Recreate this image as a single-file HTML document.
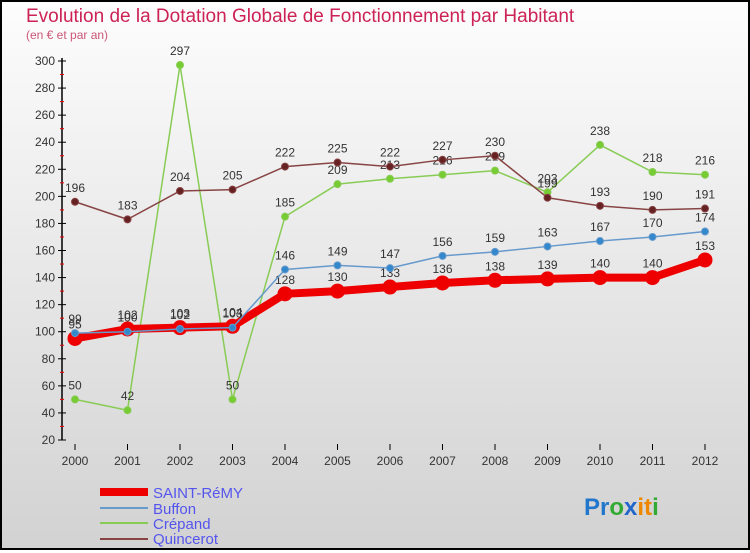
<!DOCTYPE html>
<html><head><meta charset="utf-8"><style>
html,body{margin:0;padding:0}
body{width:750px;height:550px;overflow:hidden;font-family:"Liberation Sans",sans-serif}
#wrap{position:relative;width:746px;height:546px;border:2px solid #000;background:linear-gradient(#fdfdfd,#d2d2d2)}
</style></head><body>
<div id="wrap">
<svg id="chart" width="746" height="546" viewBox="2 2 746 546">
<text x="26" y="22" font-size="19" fill="#cc2255">Evolution de la Dotation Globale de Fonctionnement par Habitant</text>
<text x="26" y="39" font-size="12" fill="#cc5577">(en € et par an)</text>
<g id="axes"></g><g id="series"></g>
<g>
<rect x="100" y="488" width="48" height="8" fill="#ee0000"/>
<text x="153" y="498" font-size="15" fill="#5555ee">SAINT-RéMY</text>
<rect x="100" y="507" width="48" height="2" fill="#6699cc"/>
<text x="153" y="514" font-size="15" fill="#5555ee">Buffon</text>
<rect x="100" y="522" width="48" height="2" fill="#88cc55"/>
<text x="153" y="529" font-size="15" fill="#5555ee">Crépand</text>
<rect x="100" y="538" width="48" height="2" fill="#884444"/>
<text x="153" y="544" font-size="15" fill="#5555ee">Quincerot</text>
</g>
<text x="584" y="515" font-size="24" font-weight="bold"><tspan fill="#2277cc">Pr</tspan><tspan fill="#33aa33">o</tspan><tspan fill="#2266cc">x</tspan><tspan fill="#ee8800">it</tspan><tspan fill="#33aa33">i</tspan></text>
</svg></div>
<script>
const years=[2000,2001,2002,2003,2004,2005,2006,2007,2008,2009,2010,2011,2012];
const yTicks=[20,40,60,80,100,120,140,160,180,200,220,240,260,280,300];
const saintRemy=[95,102,103,104,128,130,133,136,138,139,140,140,153];
const buffon=[99,100,102,103,146,149,147,156,159,163,167,170,174];
const crepand=[50,42,297,50,185,209,213,216,219,203,238,218,216];
const quincerot=[196,183,204,205,222,225,222,227,230,199,193,190,191];
const NS="http://www.w3.org/2000/svg";
function xs(i){return 75+i*52.5;}
function ys(v){return 440-(v-20)*(379/280);}
function mk(tag,attrs,parent){const e=document.createElementNS(NS,tag);for(const k in attrs)e.setAttribute(k,attrs[k]);parent.appendChild(e);return e;}
const axes=document.getElementById('axes'),ser=document.getElementById('series');
let l=mk('line',{x1:62,y1:58,x2:62,y2:440,stroke:'#000','stroke-width':1.5},axes);


yTicks.forEach(v=>{
 const y=ys(v);
 let t=mk('line',{x1:58,y1:y,x2:66,y2:y,stroke:'#000'},axes);
 
 
 if(v<300){let m=mk('line',{x1:60,y1:ys(v+10),x2:64,y2:ys(v+10),stroke:'#e00'},axes);
 
 }
 let tx=mk('text',{x:55,y:y+4,'font-size':12,fill:'#333','text-anchor':'end'},axes);tx.textContent=v;
 
 
});
years.forEach((yr,i)=>{
 let t=mk('line',{x1:xs(i),y1:444,x2:xs(i),y2:450,stroke:'#000'},axes);
 
 
 let tx=mk('text',{x:xs(i),y:465,'font-size':12,fill:'#333','text-anchor':'middle'},axes);tx.textContent=yr;
 
 
});
function draw(data,color,w,r,name,dot){
 const pts=data.map((v,i)=>xs(i)+','+ys(v)).join(' ');
 let p=mk('polyline',{points:pts,fill:'none',stroke:color,'stroke-width':w,'stroke-linejoin':'round'},ser);
 
 
 data.forEach((v,i)=>{
  let c=mk('circle',{cx:xs(i),cy:ys(v),r:r,fill:dot,stroke:color,'stroke-width':1},ser);
  
  
  let t=mk('text',{x:xs(i),y:ys(v)-10,'font-size':12,fill:'#333','text-anchor':'middle'},ser);t.textContent=v;
  
  
 });
}
draw(crepand,'#88cc55',1.5,3.5,'crepand','#77cc33');
draw(quincerot,'#884444',1.5,3.5,'quincerot','#662222');
draw(saintRemy,'#ee0000',8,7,'saint-remy','#ee0000');
draw(buffon,'#6699cc',1.5,3.5,'buffon','#3388cc');
</script>
</body></html>
